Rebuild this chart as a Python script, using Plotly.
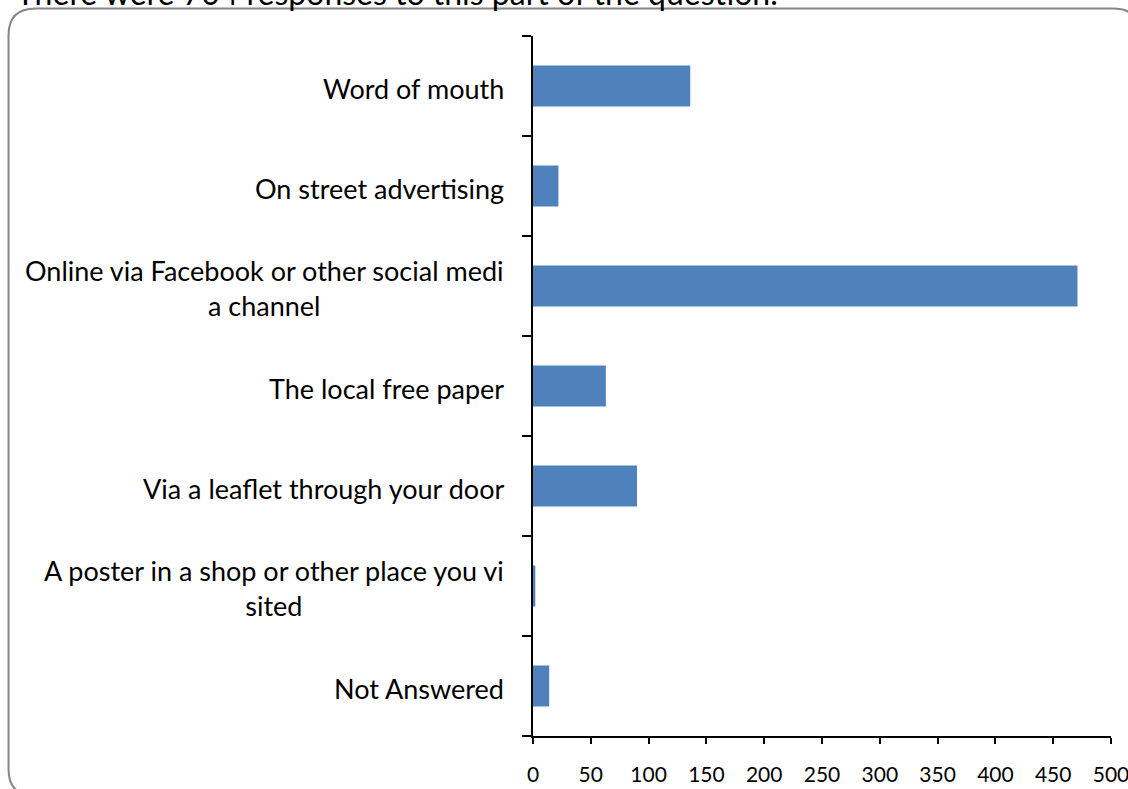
import plotly.graph_objects as go

categories = [
    "Word of mouth",
    "On street advertising",
    "Online via Facebook or other social medi<br>a channel",
    "The local free paper",
    "Via a leaflet through your door",
    "A poster in a shop or other place you vi<br>sited",
    "Not Answered",
]
counts = [136, 22, 471, 63, 90, 2, 14]
x_ticks = [0, 50, 100, 150, 200, 250, 300, 350, 400, 450, 500]
title_text = "There were 704 responses to this part of the question."

W, H = 1128, 789
L, R, T, B = 533, 17, 36, 53
pw, ph = W - L - R, H - T - B

def px_x(p):
    return (p - L) / pw

def px_y(p):
    return (H - B - p) / ph

FONT = "Lato, 'Liberation Sans', sans-serif"

fig = go.Figure()
fig.add_trace(go.Bar(
    x=counts, y=list(range(len(categories))), orientation="h",
    marker=dict(color="#4F81BD", line=dict(width=0)),
    width=0.41,
))

annotations = []
for i, c in enumerate(categories):
    annotations.append(dict(
        x=0, xref="paper", y=i, yref="y", text=c, showarrow=False,
        xanchor="right", yanchor="middle", align="center", xshift=-27, yshift=-2,
        font=dict(family=FONT, size=27, color="#000000"),
    ))
annotations.append(dict(
    x=px_x(14), xref="paper", y=px_y(14), yref="paper", text=title_text,
    showarrow=False, xanchor="left", yanchor="bottom",
    font=dict(family=FONT, size=32, color="#000000"),
))

# rounded border (paper coordinates computed from pixel positions)
x0, x1 = px_x(8.5), px_x(1140)
y0, y1 = px_y(8.5), px_y(796)
rx = 27 / pw
ry = 27 / ph
path = (f"M {x0+rx},{y0} L {x1-rx},{y0} Q {x1},{y0} {x1},{y0-ry} "
        f"L {x1},{y1+ry} Q {x1},{y1} {x1-rx},{y1} L {x0+rx},{y1} "
        f"Q {x0},{y1} {x0},{y1+ry} L {x0},{y0-ry} Q {x0},{y0} {x0+rx},{y0} Z")

fig.update_layout(
    width=W, height=H,
    margin=dict(l=L, r=R, t=T, b=B, pad=0),
    paper_bgcolor="white", plot_bgcolor="white",
    showlegend=False,
    annotations=annotations,
    shapes=[dict(type="path", path=path, xref="paper", yref="paper",
                 line=dict(color="#868686", width=2), layer="below")],
    xaxis=dict(
        range=[0, 500], tickmode="array", tickvals=x_ticks,
        ticktext=[str(v) for v in x_ticks],
        showgrid=False, zeroline=False, showline=True,
        linecolor="black", linewidth=1.5,
        ticks="outside", ticklen=6, tickwidth=1.5, tickcolor="black",
        tickfont=dict(family=FONT, size=21, color="black"),
        ticklabelstandoff=13, automargin=False, ticklabeloverflow="allow",
    ),
    yaxis=dict(
        range=[len(categories) - 0.5, -0.5],
        tickmode="array", tickvals=[i - 0.5 for i in range(len(categories) + 1)],
        showticklabels=False,
        showgrid=False, zeroline=False, showline=True,
        linecolor="black", linewidth=1.5,
        ticks="outside", ticklen=9, tickwidth=1.5, tickcolor="black",
        automargin=False,
    ),
)

fig.write_html("out.html", config={"displayModeBar": False},
               post_script="document.body.style.margin='0';document.body.style.overflow='hidden';")
